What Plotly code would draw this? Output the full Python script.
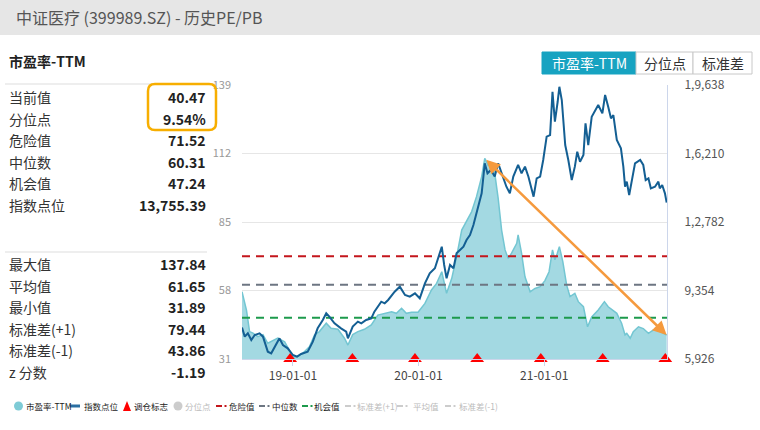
import plotly.graph_objects as go

# ---------------- data ----------------
pe_dates = ["2018-08-06","2018-08-14","2018-08-19","2018-08-28","2018-09-07","2018-09-21","2018-10-06","2018-10-20",
            "2018-10-30","2018-11-18","2018-12-08","2018-12-22","2019-01-01","2019-01-15","2019-02-04","2019-02-18",
            "2019-03-05","2019-03-19","2019-04-08","2019-04-22","2019-05-12","2019-05-31","2019-06-10","2019-06-24",
            "2019-07-09","2019-07-28","2019-08-17","2019-09-05","2019-09-25","2019-10-15","2019-10-29","2019-11-13",
            "2019-11-27","2019-12-12","2019-12-31","2020-01-20","2020-02-08","2020-02-23","2020-03-09","2020-03-16",
            "2020-03-23","2020-04-07","2020-04-21","2020-05-06","2020-05-20","2020-06-04","2020-06-18","2020-07-03",
            "2020-07-12","2020-07-22","2020-08-01","2020-08-10","2020-08-20","2020-08-30","2020-09-09","2020-09-18",
            "2020-09-28","2020-10-13","2020-10-17","2020-10-27","2020-11-06","2020-11-21","2020-12-05","2020-12-20",
            "2021-01-03","2021-01-15","2021-01-25","2021-02-01","2021-02-08","2021-02-14","2021-02-24","2021-03-07",
            "2021-03-17","2021-03-31","2021-04-10","2021-04-25","2021-05-07","2021-05-19","2021-06-07","2021-06-25",
            "2021-07-06","2021-07-18","2021-07-31","2021-08-14","2021-08-24","2021-08-29","2021-09-08","2021-09-17",
            "2021-10-02","2021-10-16","2021-10-31","2021-11-14","2021-11-29","2021-12-23"]
pe_values = [57.5,52.3,50.3,41.8,41.2,39.8,40.6,37.2,
             37.9,39.2,37.8,34.5,31.9,31.9,33.9,35.8,
             40.5,41.8,45.1,43.1,42.7,39.2,36.5,40.6,
             41.8,42.7,44.4,48.3,49.0,49.6,49.0,51.0,
             49.0,49.4,49.4,52.9,58.2,60.8,65.4,60.8,
             56.9,62.8,71.3,81.8,85.1,89.1,95.0,102.9,
             110.1,107.3,107.5,104.2,94.3,81.8,74.0,70.7,
             72.7,76.6,79.9,72.7,63.4,57.5,58.8,59.5,
             61.9,65.4,74.0,70.1,72.7,75.3,69.4,60.2,
             55.6,56.9,53.6,51.6,43.7,47.6,50.3,53.6,
             51.6,50.3,49.0,45.1,40.5,41.1,39.2,41.8,
             43.7,43.0,41.1,42.4,42.2,40.47]

idx_dates = ["2018-08-06","2018-08-14","2018-08-23","2018-09-02","2018-09-12","2018-09-26","2018-10-06","2018-10-11",
             "2018-10-20","2018-10-30","2018-11-14","2018-11-23","2018-12-03","2018-12-17","2019-01-01","2019-01-13",
             "2019-01-25","2019-02-13","2019-02-28","2019-03-14","2019-03-29","2019-04-08","2019-04-17","2019-05-02",
             "2019-05-21","2019-06-05","2019-06-10","2019-06-24","2019-07-09","2019-07-19","2019-08-02","2019-08-17",
             "2019-08-26","2019-09-15","2019-09-25","2019-10-05","2019-10-24","2019-11-08","2019-11-23","2019-12-07",
             "2019-12-22","2020-01-05","2020-01-20","2020-02-03","2020-02-18","2020-02-28","2020-03-09","2020-03-16",
             "2020-03-23","2020-04-02","2020-04-12","2020-04-21","2020-05-11","2020-05-20","2020-05-30","2020-06-09",
             "2020-06-23","2020-07-03","2020-07-12","2020-07-20","2020-07-30","2020-08-10","2020-08-20","2020-08-30",
             "2020-09-13","2020-09-23","2020-10-03","2020-10-17","2020-10-27","2020-11-06","2020-11-16","2020-12-01",
             "2020-12-10","2020-12-20","2020-12-29","2021-01-08","2021-01-18","2021-01-25","2021-02-01","2021-02-09",
             "2021-02-14","2021-02-21","2021-03-03","2021-03-12","2021-03-22","2021-03-31","2021-04-07","2021-04-15",
             "2021-04-25","2021-05-01","2021-05-09","2021-05-19","2021-05-29","2021-06-07","2021-06-19","2021-06-27",
             "2021-07-06","2021-07-14","2021-07-21","2021-07-31","2021-08-12","2021-08-19","2021-08-24","2021-08-29",
             "2021-09-05","2021-09-15","2021-09-22","2021-10-07","2021-10-16","2021-10-23","2021-10-31","2021-11-07",
             "2021-11-19","2021-11-29","2021-12-03","2021-12-10","2021-12-18","2021-12-23"]
idx_values = [7500,7044,7211,6877,7127,7211,7044,6794,
              6293,6210,6710,6960,6627,6460,6126,6043,
              6176,6293,6794,7462,7878,8213,8046,7712,
              7462,7295,6960,7545,7795,7712,7878,7962,
              8296,8794,8713,8880,9296,9546,9130,9046,
              9213,8963,9713,10213,10464,10964,11546,10630,
              9963,10630,10464,11215,11546,11881,12130,12632,
              13547,14218,15719,15220,15386,15053,15719,15220,
              14548,14218,15053,15636,15220,15553,15050,14048,
              14966,15050,15884,17050,17130,19300,17800,18800,
              19550,18887,16635,15884,14883,15551,16300,15800,
              16134,17715,16635,18047,18386,18636,18220,19137,
              18550,17970,18130,16885,16470,15550,14548,14800,
              14133,15050,15719,15884,15636,14883,14966,14467,
              14548,14800,14467,14633,14217,13755]

rebalance_dates = ["2018-12-24","2019-06-23","2019-12-22","2020-06-20","2020-12-22","2021-06-20","2021-12-19"]

danger_value = 71.52
median_value = 60.31
chance_value = 47.24

x_range = ["2018-08-06", "2021-12-24"]
x_tick_vals = ["2019-01-01", "2020-01-01", "2021-01-01"]
x_tick_text = ["19-01-01", "20-01-01", "21-01-01"]
pe_ticks = [31, 58, 85, 112, 139]
idx_ticks = [5926, 9354, 12782, 16210, 19638]
idx_tick_text = ["5,926", "9,354", "1,2,782", "1,6,210", "1,9,638"]

panel_top_labels = ["当前值", "分位点", "危险值", "中位数", "机会值", "指数点位"]
panel_top_values = ["40.47", "9.54%", "71.52", "60.31", "47.24", "13,755.39"]
panel_bottom_labels = ["最大值", "平均值", "最小值", "标准差(+1)", "标准差(-1)", "z 分数"]
panel_bottom_values = ["137.84", "61.65", "31.89", "79.44", "43.86", "-1.19"]

legend_items = ["市盈率-TTM", "指数点位", "调仓标志", "分位点", "危险值", "中位数", "机会值", "标准差(+1)", "平均值", "标准差(-1)"]
button_labels = ["市盈率-TTM", "分位点", "标准差"]

# ---------------- layout helpers ----------------
FIG_W, FIG_H = 760, 430
L, R, T, B = 242, 667, 85, 359
PW, PH = R - L, B - T
FONT = "Noto Sans CJK SC, Microsoft YaHei, sans-serif"


def PX(x):
    return (x - L) / PW


def PY(y):
    return (B - y) / PH


def P(x, y):
    return "%.5f,%.5f" % (PX(x), PY(y))


C_AREA_LINE = "#73c6d2"
C_AREA_FILL = "#a3d9e2"
C_INDEX = "#145f93"
C_DANGER = "#c4161c"
C_MEDIAN = "#6d7682"
C_CHANCE = "#1d9a4c"
C_TEAL_BTN = "#17a3c1"
C_ORANGE = "#f59a3e"

fig = go.Figure()

fig.add_trace(go.Scatter(x=pe_dates, y=pe_values, mode="lines", fill="tozeroy",
                         line=dict(color=C_AREA_LINE, width=1.5), fillcolor=C_AREA_FILL,
                         name="市盈率-TTM", showlegend=False, hoverinfo="skip"))

for val, col in [(danger_value, C_DANGER), (median_value, C_MEDIAN), (chance_value, C_CHANCE)]:
    fig.add_trace(go.Scatter(x=x_range, y=[val, val], mode="lines",
                             line=dict(color=col, width=2, dash="8px,6px"),
                             showlegend=False, hoverinfo="skip"))

fig.add_trace(go.Scatter(x=idx_dates, y=idx_values, mode="lines", yaxis="y2",
                         line=dict(color=C_INDEX, width=2),
                         name="指数点位", showlegend=False, hoverinfo="skip"))

fig.add_trace(go.Scatter(x=rebalance_dates, y=[pe_ticks[0]] * len(rebalance_dates), mode="markers",
                         marker=dict(symbol="triangle-up", size=12, color="#ff0000"),
                         cliponaxis=False, showlegend=False, hoverinfo="skip"))

# arrow from PE peak to current PE
imax = max(range(len(pe_values)), key=lambda i: pe_values[i])
annotations = [dict(x=pe_dates[-1], y=pe_values[-1], xref="x", yref="y",
                    ax=pe_dates[imax], ay=pe_values[imax], axref="x", ayref="y",
                    text="", showarrow=True, arrowhead=2, arrowside="end+start",
                    arrowsize=1.1, arrowwidth=2.5, arrowcolor=C_ORANGE)]

shapes = []

# header band
shapes.append(dict(type="rect", xref="paper", yref="paper", x0=PX(0), x1=PX(FIG_W), y0=PY(35), y1=PY(0),
                   fillcolor="#e6e6e6", line=dict(width=0), layer="below"))
annotations.append(dict(x=PX(14), y=PY(17), xref="paper", yref="paper", text="中证医疗 (399989.SZ) - 历史PE/PB",
                        showarrow=False, xanchor="left", yanchor="middle",
                        font=dict(family=FONT, size=16, color="#555555")))

# left panel
annotations.append(dict(x=PX(7), y=PY(61), xref="paper", yref="paper", text="<b>市盈率-TTM</b>",
                        showarrow=False, xanchor="left", yanchor="middle",
                        font=dict(family=FONT, size=14, color="#222222")))
shapes.append(dict(type="line", xref="paper", yref="paper", x0=PX(5), x1=PX(215), y0=PY(84), y1=PY(84),
                   line=dict(color="#dddddd", width=1)))
shapes.append(dict(type="line", xref="paper", yref="paper", x0=PX(5), x1=PX(207), y0=PY(252), y1=PY(252),
                   line=dict(color="#dddddd", width=1)))

row_h = 21.5
for i, (lab, val) in enumerate(zip(panel_top_labels, panel_top_values)):
    yy = 97 + i * row_h
    annotations.append(dict(x=PX(7), y=PY(yy), xref="paper", yref="paper", text=lab, showarrow=False,
                            xanchor="left", yanchor="middle", font=dict(family=FONT, size=14, color="#333333")))
    annotations.append(dict(x=PX(208), y=PY(yy), xref="paper", yref="paper", text="<b>%s</b>" % val,
                            showarrow=False, xanchor="right", yanchor="middle",
                            font=dict(family=FONT, size=14, color="#222222")))
for i, (lab, val) in enumerate(zip(panel_bottom_labels, panel_bottom_values)):
    yy = 264 + i * row_h
    annotations.append(dict(x=PX(7), y=PY(yy), xref="paper", yref="paper", text=lab, showarrow=False,
                            xanchor="left", yanchor="middle", font=dict(family=FONT, size=14, color="#333333")))
    annotations.append(dict(x=PX(208), y=PY(yy), xref="paper", yref="paper", text="<b>%s</b>" % val,
                            showarrow=False, xanchor="right", yanchor="middle",
                            font=dict(family=FONT, size=14, color="#222222")))

# rounded highlight box
bx0, bx1, by0, by1, rr = 148, 216, 84, 130, 7
path = ("M " + P(bx0 + rr, by0) + " L " + P(bx1 - rr, by0) + " Q " + P(bx1, by0) + " " + P(bx1, by0 + rr) +
        " L " + P(bx1, by1 - rr) + " Q " + P(bx1, by1) + " " + P(bx1 - rr, by1) +
        " L " + P(bx0 + rr, by1) + " Q " + P(bx0, by1) + " " + P(bx0, by1 - rr) +
        " L " + P(bx0, by0 + rr) + " Q " + P(bx0, by0) + " " + P(bx0 + rr, by0) + " Z")
shapes.append(dict(type="path", xref="paper", yref="paper", path=path,
                   line=dict(color="#f7ae00", width=2.5)))

# buttons
btns = [(542, 636), (636, 693), (693, 752)]
for i, ((x0, x1), lab) in enumerate(zip(btns, button_labels)):
    active = i == 0
    shapes.append(dict(type="rect", xref="paper", yref="paper", x0=PX(x0), x1=PX(x1), y0=PY(74), y1=PY(52),
                       fillcolor=C_TEAL_BTN if active else "white",
                       line=dict(color=C_TEAL_BTN if active else "#c8c8c8", width=1)))
    annotations.append(dict(x=PX((x0 + x1) / 2), y=PY(63), xref="paper", yref="paper", text=lab,
                            showarrow=False, xanchor="center", yanchor="middle",
                            font=dict(family=FONT, size=14, color="white" if active else "#333333")))

# custom legend
ly = 406
LEG_FS = 8.5


def leg_text(x, txt, col):
    annotations.append(dict(x=PX(x), y=PY(ly), xref="paper", yref="paper", text=txt, showarrow=False,
                            xanchor="left", yanchor="middle", font=dict(family=FONT, size=LEG_FS, color=col)))


shapes.append(dict(type="circle", xref="paper", yref="paper", x0=PX(14), x1=PX(23), y0=PY(ly + 4.5), y1=PY(ly - 4.5),
                   fillcolor="#7ecbd6", line=dict(width=0)))
leg_text(24, legend_items[0], "#222222")
shapes.append(dict(type="line", xref="paper", yref="paper", x0=PX(70), x1=PX(80), y0=PY(ly), y1=PY(ly),
                   line=dict(color="#2a6fa3", width=3)))
leg_text(82, legend_items[1], "#222222")
shapes.append(dict(type="path", xref="paper", yref="paper",
                   path="M " + P(123, ly + 5) + " L " + P(131, ly + 5) + " L " + P(127, ly - 5) + " Z",
                   fillcolor="#ff0000", line=dict(width=0)))
leg_text(132, legend_items[2], "#222222")
shapes.append(dict(type="circle", xref="paper", yref="paper", x0=PX(173.5), x1=PX(182.5), y0=PY(ly + 4.5), y1=PY(ly - 4.5),
                   fillcolor="#cccccc", line=dict(width=0)))
leg_text(183, legend_items[3], "#bbbbbb")

dash_items = [(216, C_DANGER, legend_items[4], "#222222", 227),
              (259, C_MEDIAN, legend_items[5], "#222222", 270),
              (302, C_CHANCE, legend_items[6], "#222222", 312),
              (345, "#cccccc", legend_items[7], "#bbbbbb", 355),
              (397, "#cccccc", legend_items[8], "#bbbbbb", 411),
              (445, "#cccccc", legend_items[9], "#bbbbbb", 457)]
for x0, col, txt, tcol, tx in dash_items:
    shapes.append(dict(type="line", xref="paper", yref="paper", x0=PX(x0), x1=PX(x0 + 6), y0=PY(ly), y1=PY(ly),
                       line=dict(color=col, width=2)))
    shapes.append(dict(type="line", xref="paper", yref="paper", x0=PX(x0 + 8.5), x1=PX(x0 + 10.5), y0=PY(ly), y1=PY(ly),
                       line=dict(color=col, width=2)))
    leg_text(tx, txt, tcol)

fig.update_layout(
    width=FIG_W, height=FIG_H,
    margin=dict(l=L, r=FIG_W - R, t=T, b=FIG_H - B, pad=0),
    paper_bgcolor="white", plot_bgcolor="white",
    showlegend=False,
    font=dict(family=FONT),
    hovermode=False,
    xaxis=dict(type="date", range=x_range, tickvals=x_tick_vals, ticktext=x_tick_text,
               showgrid=False, zeroline=False, showline=True, linecolor="#ccd6eb", linewidth=1,
               ticks="outside", ticklen=6, tickcolor="#ccd6eb",
               tickfont=dict(family=FONT, size=12, color="#444444")),
    yaxis=dict(range=[pe_ticks[0], pe_ticks[-1]], tickvals=pe_ticks, showgrid=True, gridcolor="#e6e6e6",
               gridwidth=1, zeroline=False, showline=False, ticks="",
               ticklabelstandoff=10, tickfont=dict(family=FONT, size=11, color="#999999")),
    yaxis2=dict(range=[idx_ticks[0], idx_ticks[-1]], tickvals=idx_ticks, ticktext=idx_tick_text,
                overlaying="y", side="right", showgrid=False, zeroline=False,
                showline=True, linecolor="#ccd6eb", linewidth=1, ticks="",
                ticklabelstandoff=14, tickfont=dict(family=FONT, size=12, color="#555555")),
    shapes=shapes,
    annotations=annotations,
)

fig.write_html("out.html", config={"displayModeBar": False},
               post_script="document.body.style.margin='0';document.body.style.padding='0';")
